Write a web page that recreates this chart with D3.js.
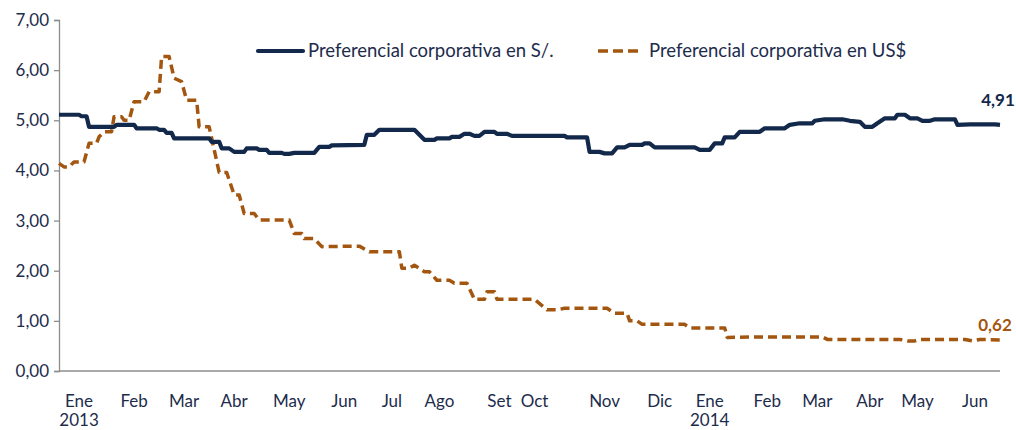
<!DOCTYPE html>
<html>
<head>
<meta charset="utf-8">
<script src="https://cdn.jsdelivr.net/npm/d3@7"></script>
<style>
  body { margin: 0; background: #fff; }
  text { font-family: Lato, "Open Sans", sans-serif; fill: #1d2c4c; }
</style>
</head>
<body>
<div class="chart_container"></div>
<script>
// business-day index (0 = start of Jan 2013) and rate in %
var solesDay = [0, 8, 9, 11, 12, 22, 23, 30, 31, 39, 40, 42, 43, 45, 46, 60, 61, 64, 65, 68, 70, 74, 75, 79, 80, 83, 84, 89, 90, 92, 94, 102, 104, 108, 109, 122, 123, 126, 128, 142, 144, 146, 150, 151, 156, 157, 160, 162, 164, 166, 168, 170, 174, 175, 179, 181, 202, 203, 211, 212, 216, 218, 221, 223, 226, 228, 233, 234, 236, 238, 254, 256, 260, 262, 265, 266, 270, 272, 280, 282, 290, 292, 296, 301, 302, 306, 313, 316, 320, 322, 325, 327, 330, 334, 335, 338, 340, 343, 345, 348, 350, 358, 359, 364, 374, 376];
var solesRate = [5.11, 5.11, 5.08, 5.08, 4.87, 4.87, 4.91, 4.91, 4.84, 4.84, 4.81, 4.81, 4.75, 4.75, 4.64, 4.64, 4.57, 4.57, 4.44, 4.44, 4.37, 4.37, 4.44, 4.44, 4.41, 4.41, 4.35, 4.35, 4.33, 4.33, 4.35, 4.35, 4.47, 4.47, 4.50, 4.51, 4.71, 4.71, 4.81, 4.81, 4.71, 4.61, 4.61, 4.64, 4.64, 4.67, 4.67, 4.73, 4.73, 4.69, 4.69, 4.77, 4.77, 4.73, 4.73, 4.69, 4.69, 4.66, 4.66, 4.37, 4.37, 4.34, 4.34, 4.46, 4.46, 4.51, 4.51, 4.54, 4.54, 4.46, 4.46, 4.41, 4.41, 4.54, 4.54, 4.66, 4.66, 4.77, 4.77, 4.84, 4.84, 4.91, 4.94, 4.94, 4.99, 5.02, 5.02, 4.99, 4.97, 4.87, 4.87, 4.94, 5.04, 5.04, 5.11, 5.11, 5.04, 5.04, 4.99, 4.99, 5.02, 5.02, 4.91, 4.92, 4.92, 4.91];

var dolaresDay = [0, 2, 4, 6, 10, 12, 15, 16, 18, 21, 22, 25, 26, 28, 30, 34, 36, 40, 41, 44, 46, 49, 51, 55, 56, 60, 64, 67, 70, 72, 74, 78, 80, 92, 94, 97, 98, 102, 105, 120, 124, 136, 137, 140, 142, 146, 148, 151, 156, 158, 163, 166, 170, 171, 174, 175, 190, 195, 199, 202, 219, 222, 227, 228, 231, 233, 250, 252, 266, 267, 280, 305, 307, 336, 339, 342, 344, 362, 365, 368, 376];
var dolaresRate = [4.14, 4.07, 4.07, 4.17, 4.17, 4.54, 4.54, 4.67, 4.77, 4.77, 5.07, 5.07, 5.00, 5.00, 5.37, 5.37, 5.57, 5.57, 6.27, 6.27, 5.84, 5.77, 5.40, 5.40, 4.87, 4.87, 3.96, 3.96, 3.51, 3.51, 3.14, 3.14, 3.01, 3.01, 2.74, 2.74, 2.64, 2.64, 2.48, 2.49, 2.38, 2.38, 2.05, 2.05, 2.11, 1.98, 1.98, 1.81, 1.81, 1.75, 1.75, 1.43, 1.43, 1.58, 1.58, 1.43, 1.43, 1.22, 1.22, 1.25, 1.25, 1.15, 1.15, 1.00, 1.00, 0.93, 0.93, 0.86, 0.86, 0.67, 0.68, 0.68, 0.63, 0.63, 0.60, 0.60, 0.63, 0.63, 0.60, 0.63, 0.62];

var monthLabels = ["Ene", "Feb", "Mar", "Abr", "May", "Jun", "Jul", "Ago", "Set", "Oct", "Nov", "Dic", "Ene", "Feb", "Mar", "Abr", "May", "Jun"];
var monthDay = [8, 30, 50, 70, 92, 114, 133, 152, 176, 190, 218, 240, 260, 283, 303, 324, 343, 366];
var yearLabels = ["2013", "", "", "", "", "", "", "", "", "", "", "", "2014", "", "", "", "", ""];
var yTicks = [0, 1, 2, 3, 4, 5, 6, 7];

var seriesNames = ["Preferencial corporativa en S/.", "Preferencial corporativa en US$"];
var lastLabels = ["4,91", "0,62"];

var navy = "#13294b";
var brown = "#a3560f";

var svg = d3.select(".chart_container").append("svg")
    .attr("width", 1016)
    .attr("height", 430);

var x = d3.scaleLinear().domain([0, 376]).range([59, 1000]);
var y = d3.scaleLinear().domain([0, 7]).range([371, 20]);

var fmt = function(v) { return d3.format(".2f")(v).replace(".", ","); };

// y axis
var yAxis = svg.append("g")
    .attr("transform", "translate(59,0)")
    .call(d3.axisLeft(y).tickValues(yTicks).tickFormat(fmt).tickSize(5).tickPadding(5));
yAxis.select(".domain").attr("stroke", "#8c8c8c").attr("stroke-width", 1.3);
yAxis.selectAll(".tick line").attr("stroke", "#8c8c8c").attr("stroke-width", 1.3);
yAxis.selectAll("text").style("font-size", "17px").style("fill", "#1d2c4c");

// x axis line
svg.append("line")
    .attr("x1", x(0)).attr("x2", x(376))
    .attr("y1", y(0)).attr("y2", y(0))
    .attr("stroke", "#8c8c8c").attr("stroke-width", 1.3);

var xlab = svg.append("g").selectAll("g")
    .data(monthLabels)
    .enter().append("g")
        .attr("transform", (d, i) => "translate(" + x(monthDay[i]) + ",0)");
xlab.append("text")
    .attr("y", 407)
    .attr("text-anchor", "middle")
    .style("font-size", "17px")
    .text(d => d);
xlab.append("text")
    .attr("y", 426)
    .attr("text-anchor", "middle")
    .style("font-size", "17px")
    .text((d, i) => yearLabels[i]);

var line = d3.line()
    .x(d => x(d[0]))
    .y(d => y(d[1]));

var soles = solesDay.map((d, i) => [d, solesRate[i]]);
var dolares = dolaresDay.map((d, i) => [d, dolaresRate[i]]);

svg.append("path")
    .datum(dolares)
    .attr("d", line)
    .attr("fill", "none")
    .attr("stroke", brown)
    .attr("stroke-width", 3.5)
    .attr("stroke-dasharray", "9,5")
    .attr("stroke-linejoin", "round");

svg.append("path")
    .datum(soles)
    .attr("d", line)
    .attr("fill", "none")
    .attr("stroke", navy)
    .attr("stroke-width", 4.2)
    .attr("stroke-linejoin", "round");

// end labels
svg.append("text")
    .attr("x", 998).attr("y", 106)
    .attr("text-anchor", "middle")
    .style("font-size", "17px").style("font-weight", "bold").style("fill", navy)
    .text(lastLabels[0]);
svg.append("text")
    .attr("x", 995).attr("y", 331)
    .attr("text-anchor", "middle")
    .style("font-size", "17px").style("font-weight", "bold").style("fill", brown)
    .text(lastLabels[1]);

// legend
svg.append("line")
    .attr("x1", 258).attr("x2", 303).attr("y1", 51).attr("y2", 51)
    .attr("stroke", navy).attr("stroke-width", 4.2).attr("stroke-linecap", "round");
svg.append("text")
    .attr("x", 308).attr("y", 57)
    .style("font-size", "18.5px")
    .text(seriesNames[0]);
svg.append("line")
    .attr("x1", 598).attr("x2", 639).attr("y1", 51).attr("y2", 51)
    .attr("stroke", brown).attr("stroke-width", 3.5).attr("stroke-dasharray", "10,5");
svg.append("text")
    .attr("x", 649).attr("y", 57)
    .style("font-size", "18.5px")
    .text(seriesNames[1]);
</script>
</body>
</html>
